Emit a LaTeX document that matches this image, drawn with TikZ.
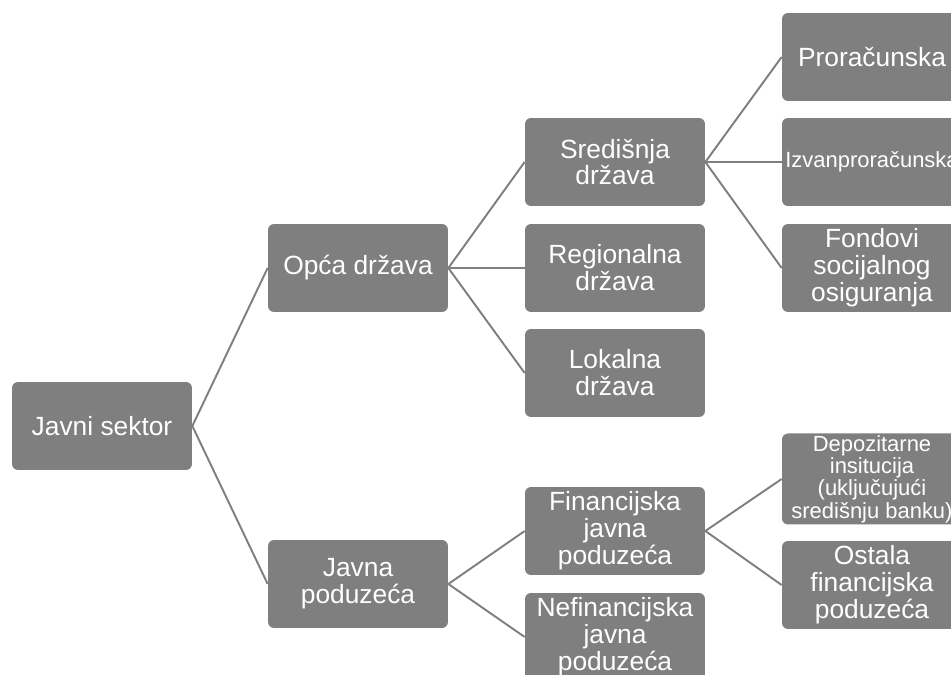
\documentclass[tikz,border=0pt]{standalone}
\usepackage{fontspec}
\setmainfont{Liberation Sans}
\definecolor{boxgray}{HTML}{7F7F7F}
\tikzset{
  unit/.style={rectangle, rounded corners=0.12cm, fill=boxgray, text=white,
    minimum width=3.6cm, minimum height=1.76cm, align=center, inner sep=1pt,
    font=\fontsize{15}{15.3}\selectfont},
  smallunit/.style={unit, font=\fontsize{12.5}{11.4}\selectfont},
  link/.style={draw=boxgray, line width=1.1pt}
}
\begin{document}
\begin{tikzpicture}[x=0.02cm, y=-0.02cm]
\clip (0,0) rectangle (951,675);
% level 0
\node[unit] (JS) at (102,426) {Javni sektor};
% level 1
\node[unit] (OD) at (358,268) {Opća država};
\node[unit] (JP) at (358,584) {Javna\\poduzeća};
% level 2
\node[unit] (SD) at (615,162) {Središnja\\država};
\node[unit] (RD) at (615,268) {Regionalna\\država};
\node[unit] (LD) at (615,373) {Lokalna\\država};
\node[unit] (FJP) at (615,531) {Financijska\\javna\\poduzeća};
\node[unit] (NJP) at (615,637) {Nefinancijska\\javna\\poduzeća};
% level 3
\node[unit] (PR) at (872,57) {Proračunska};
\node[smallunit] (IZ) at (872,162) {Izvanproračunska};
\node[unit] (FS) at (872,268) {Fondovi\\socijalnog\\osiguranja};
\node[smallunit] (DI) at (872,479) {Depozitarne\\insitucija\\(uključujući\\središnju banku)};
\node[unit] (OF) at (872,585) {Ostala\\financijska\\poduzeća};
% links
\draw[link] (JS.east) -- (OD.west);
\draw[link] (JS.east) -- (JP.west);
\draw[link] (OD.east) -- (SD.west);
\draw[link] (OD.east) -- (RD.west);
\draw[link] (OD.east) -- (LD.west);
\draw[link] (JP.east) -- (FJP.west);
\draw[link] (JP.east) -- (NJP.west);
\draw[link] (SD.east) -- (PR.west);
\draw[link] (SD.east) -- (IZ.west);
\draw[link] (SD.east) -- (FS.west);
\draw[link] (FJP.east) -- (DI.west);
\draw[link] (FJP.east) -- (OF.west);
\end{tikzpicture}
\end{document}
